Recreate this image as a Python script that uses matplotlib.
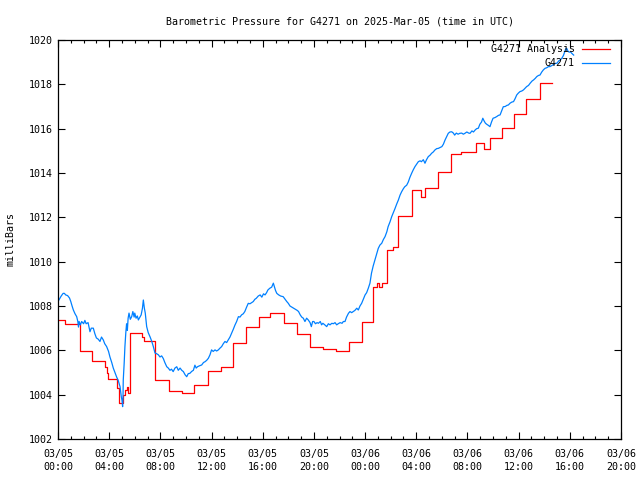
import numpy as np
import matplotlib
matplotlib.use("Agg")
import matplotlib.pyplot as plt
from matplotlib.ticker import MultipleLocator

# hours since 2025-03-05 00:00 UTC
obs_hours = [0.0, 0.1, 0.25, 0.4, 0.5, 0.6, 0.75, 0.9, 1.0, 1.1, 1.2, 1.33, 1.46, 1.55, 1.6, 1.65, 1.75, 1.85,
             2.0, 2.1, 2.2, 2.35, 2.5, 2.6, 2.76, 2.88, 3.0, 3.15, 3.28, 3.4, 3.54, 3.65, 3.8, 3.95,
             4.06, 4.2, 4.32, 4.45, 4.58, 4.7, 4.85, 4.95, 5.0, 5.05, 5.08, 5.1, 5.17, 5.23, 5.3, 5.36, 5.42,
             5.48, 5.55, 5.65, 5.76, 5.85, 5.95, 6.0, 6.1, 6.2, 6.28, 6.4, 6.5, 6.6, 6.67, 6.75, 6.82, 6.93,
             7.05, 7.2, 7.33, 7.45, 7.58, 7.7, 7.84, 7.97, 8.1, 8.23, 8.35, 8.5, 8.62, 8.75, 8.87,
             9.0, 9.14, 9.28, 9.4, 9.54, 9.67, 9.8, 9.93, 10.06, 10.18, 10.3, 10.45, 10.58, 10.7, 10.8, 10.9,
             11.05, 11.23, 11.37, 11.5, 11.62, 11.75, 11.88, 12.0, 12.13, 12.27, 12.4, 12.53, 12.66, 12.79, 12.92,
             13.05, 13.18, 13.3, 13.44, 13.57, 13.7, 13.83, 13.96, 14.1, 14.22, 14.35, 14.48, 14.6, 14.74, 14.87,
             15.0, 15.13, 15.26, 15.38, 15.5, 15.65, 15.8, 15.93, 16.06, 16.18, 16.3, 16.4, 16.55, 16.7, 16.83,
             16.92, 17.0, 17.1, 17.25, 17.4, 17.6, 17.75, 17.88, 18.0, 18.13, 18.27, 18.4, 18.55, 18.7, 18.8,
             18.93, 19.05, 19.17, 19.3, 19.43, 19.56, 19.7, 19.8, 19.9, 20.0, 20.12, 20.25, 20.35, 20.5, 20.6,
             20.7, 20.85, 21.0, 21.13, 21.26, 21.4, 21.52, 21.65, 21.78, 21.9, 22.05, 22.2, 22.3, 22.43, 22.55,
             22.7, 22.82, 22.95, 23.08, 23.2, 23.35, 23.47, 23.6, 23.73, 23.86, 24.0, 24.12, 24.25, 24.38, 24.5,
             24.63, 24.77, 24.9, 25.03, 25.16, 25.3, 25.43, 25.56, 25.7, 25.8, 25.95, 26.08, 26.2, 26.34, 26.47,
             26.6, 26.73, 26.86, 27.0, 27.1, 27.25, 27.38, 27.5, 27.64, 27.77, 27.9, 28.03, 28.16, 28.3, 28.4,
             28.55, 28.68, 28.8, 28.94, 29.07, 29.2, 29.33, 29.46, 29.6, 29.72, 29.86, 30.0, 30.12, 30.25, 30.38,
             30.5, 30.63, 30.77, 30.9, 31.0, 31.13, 31.27, 31.4, 31.55, 31.68, 31.8, 31.95, 32.1, 32.2, 32.35,
             32.47, 32.6, 32.72, 32.85, 32.97, 33.1, 33.2, 33.3, 33.4, 33.5, 33.63, 33.76, 33.88, 34.0, 34.15,
             34.3, 34.42, 34.55, 34.67, 34.8, 34.95, 35.08, 35.2, 35.33, 35.47, 35.6, 35.72, 35.85, 35.97, 36.1,
             36.25, 36.38, 36.5, 36.63, 36.77, 36.9, 37.05, 37.17, 37.3, 37.42, 37.55, 37.67, 37.8, 37.93, 38.06,
             38.2, 38.33, 38.45, 38.6, 38.75, 38.88, 39.0, 39.12, 39.25, 39.37, 39.5, 39.6, 39.68, 39.76, 39.85,
             39.95, 40.05, 40.15, 40.3]
obs_mb = [1008.2, 1008.3, 1008.45, 1008.57, 1008.57, 1008.5, 1008.47, 1008.36, 1008.2, 1008.0, 1007.82, 1007.65,
          1007.52, 1007.3, 1007.05, 1007.3, 1007.15, 1007.3,
          1007.2, 1007.35, 1007.2, 1007.25, 1006.84, 1007.0, 1007.0, 1006.75, 1006.56, 1006.5, 1006.4, 1006.6,
          1006.47, 1006.3, 1006.17, 1005.95,
          1005.7, 1005.45, 1005.2, 1005.0, 1004.8, 1004.65, 1004.36, 1003.9, 1003.75, 1003.46, 1003.9, 1004.66,
          1005.4, 1006.17, 1006.8, 1007.2, 1006.9,
          1007.45, 1007.68, 1007.4, 1007.52, 1007.75, 1007.5, 1007.68, 1007.45, 1007.55, 1007.37, 1007.5, 1007.6,
          1007.9, 1008.27, 1007.9, 1007.68, 1007.07,
          1006.8, 1006.6, 1006.4, 1006.17, 1005.88, 1005.85, 1005.8, 1005.7, 1005.75, 1005.63, 1005.45, 1005.26,
          1005.2, 1005.1, 1005.15,
          1005.04, 1005.2, 1005.26, 1005.1, 1005.2, 1005.1, 1005.04, 1004.9, 1004.81, 1004.95, 1004.96, 1005.05,
          1005.1, 1005.33, 1005.2, 1005.26,
          1005.3, 1005.34, 1005.45, 1005.49, 1005.55, 1005.64, 1005.8, 1006.02, 1005.95, 1006.02, 1005.97, 1006.02,
          1006.1, 1006.17, 1006.3,
          1006.4, 1006.35, 1006.47, 1006.6, 1006.77, 1006.95, 1007.14, 1007.3, 1007.52, 1007.5, 1007.6, 1007.65,
          1007.75, 1007.95, 1008.12,
          1008.1, 1008.15, 1008.2, 1008.3, 1008.35, 1008.45, 1008.5, 1008.4, 1008.55, 1008.5, 1008.6, 1008.72,
          1008.8, 1008.85, 1009.03,
          1008.85, 1008.7, 1008.57, 1008.5, 1008.45, 1008.42, 1008.3, 1008.2, 1008.12, 1008.0, 1007.95, 1007.9,
          1007.85, 1007.8, 1007.75,
          1007.6, 1007.5, 1007.45, 1007.3, 1007.45, 1007.37, 1007.25, 1007.07, 1007.3, 1007.3, 1007.2, 1007.25,
          1007.22, 1007.3, 1007.15,
          1007.22, 1007.15, 1007.07, 1007.2, 1007.15, 1007.22, 1007.2, 1007.25, 1007.15, 1007.2, 1007.25, 1007.22,
          1007.3, 1007.3, 1007.5,
          1007.67, 1007.75, 1007.7, 1007.75, 1007.8, 1007.9, 1007.82, 1008.0, 1008.12, 1008.3, 1008.5, 1008.6,
          1008.8, 1009.03, 1009.48,
          1009.8, 1010.08, 1010.35, 1010.6, 1010.75, 1010.83, 1011.0, 1011.13, 1011.35, 1011.58, 1011.8, 1012.03,
          1012.2, 1012.4, 1012.6,
          1012.78, 1013.0, 1013.16, 1013.3, 1013.38, 1013.45, 1013.6, 1013.8, 1013.99, 1014.15, 1014.29, 1014.4,
          1014.51, 1014.55, 1014.51,
          1014.6, 1014.44, 1014.6, 1014.74, 1014.8, 1014.89, 1014.95, 1015.04, 1015.1, 1015.11, 1015.15, 1015.19,
          1015.3, 1015.49, 1015.65,
          1015.79, 1015.85, 1015.86, 1015.8, 1015.71, 1015.8, 1015.75, 1015.79, 1015.8, 1015.75, 1015.79, 1015.85,
          1015.8, 1015.79, 1015.9,
          1015.85, 1015.94, 1016.0, 1016.02, 1016.2, 1016.3, 1016.47, 1016.35, 1016.25, 1016.2, 1016.15, 1016.09,
          1016.3, 1016.47, 1016.5,
          1016.55, 1016.6, 1016.62, 1016.8, 1016.99, 1017.0, 1017.05, 1017.07, 1017.15, 1017.2, 1017.22, 1017.35,
          1017.52, 1017.6, 1017.67,
          1017.7, 1017.75, 1017.82, 1017.9, 1017.95, 1018.05, 1018.15, 1018.2, 1018.27, 1018.35, 1018.4, 1018.42,
          1018.55, 1018.65, 1018.72,
          1018.75, 1018.8, 1018.8, 1018.85, 1018.9, 1018.95, 1018.95, 1019.05, 1019.1, 1019.17, 1019.3, 1019.47,
          1019.6, 1019.62, 1019.5,
          1019.45, 1019.47, 1019.4, 1019.32]

ana_hours = [0.0, 0.55, 1.7, 2.65, 3.67, 3.8, 3.9, 4.6, 4.75, 5.1, 5.25, 5.36, 5.5, 5.63, 6.55, 6.7, 7.6,
             8.7, 9.7, 10.65, 11.75, 12.7, 13.65, 14.7, 15.7, 16.6, 17.66, 18.65, 19.7, 20.73, 21.73, 22.74,
             23.73, 24.64, 24.95, 25.1, 25.35, 25.68, 26.2, 26.6, 27.64, 28.4, 28.7, 29.67, 30.7, 31.5,
             32.7, 33.3, 33.76, 34.67, 35.6, 36.6, 37.67, 38.63]
ana_mb = [1007.37, 1007.2, 1005.97, 1005.52, 1005.25, 1005.0, 1004.7, 1004.3, 1003.62, 1004.0, 1004.2, 1004.36,
          1004.06, 1006.77, 1006.6, 1006.42, 1004.66,
          1004.18, 1004.09, 1004.44, 1005.08, 1005.24, 1006.35, 1007.04, 1007.49, 1007.67, 1007.22, 1006.72,
          1006.17, 1006.05, 1005.97, 1006.39,
          1007.3, 1008.87, 1009.03, 1008.87, 1009.06, 1010.53, 1010.65, 1012.06, 1013.23, 1012.93, 1013.31,
          1014.03, 1014.84, 1014.93,
          1015.34, 1015.07, 1015.57, 1016.02, 1016.65, 1017.32, 1018.05, 1018.05]

tick_hours = list(range(0, 45, 4))
tick_labels = ["03/05\n00:00", "03/05\n04:00", "03/05\n08:00", "03/05\n12:00", "03/05\n16:00", "03/05\n20:00",
               "03/06\n00:00", "03/06\n04:00", "03/06\n08:00", "03/06\n12:00", "03/06\n16:00", "03/06\n20:00"]

plt.rcParams['font.family'] = 'DejaVu Sans Mono'
plt.rcParams['font.size'] = 7.2

fig = plt.figure(figsize=(6.4, 4.8), dpi=100)
ax = fig.add_axes([58/640, 1-439/480, 563/640, 399/480])

ax.plot(ana_hours, ana_mb, color='#ff0000', lw=0.9, drawstyle='steps-post')
ax.plot(obs_hours, obs_mb, color='#0080ff', lw=0.9)

ax.set_xlim(0, 44)
ax.set_ylim(1002, 1020)
ax.set_xticks(tick_hours)
ax.set_xticklabels(tick_labels, linespacing=1.45)
ax.xaxis.set_minor_locator(MultipleLocator(1))
ax.set_yticks(np.arange(1002, 1021, 2))
ax.tick_params(which='both', direction='in', top=True, right=True, width=0.8)
ax.tick_params(which='major', length=5, pad=4)
ax.tick_params(which='minor', length=2.5)
ax.tick_params(axis='x', pad=7)
for s in ax.spines.values():
    s.set_linewidth(0.9)

ax.set_title("Barometric Pressure for G4271 on 2025-Mar-05 (time in UTC)", fontsize=7.2, pad=11)
ax.set_ylabel("milliBars", labelpad=9)

# gnuplot style key, text right justified with sample to the right
ax.text(0.918, 0.977, "G4271 Analysis", transform=ax.transAxes, ha='right', va='center')
ax.plot([0.931, 0.980], [0.978, 0.978], transform=ax.transAxes, color='#ff0000', lw=0.9)
ax.text(0.918, 0.942, "G4271", transform=ax.transAxes, ha='right', va='center')
ax.plot([0.931, 0.980], [0.943, 0.943], transform=ax.transAxes, color='#0080ff', lw=0.9)

fig.savefig("out.png", dpi=100)
